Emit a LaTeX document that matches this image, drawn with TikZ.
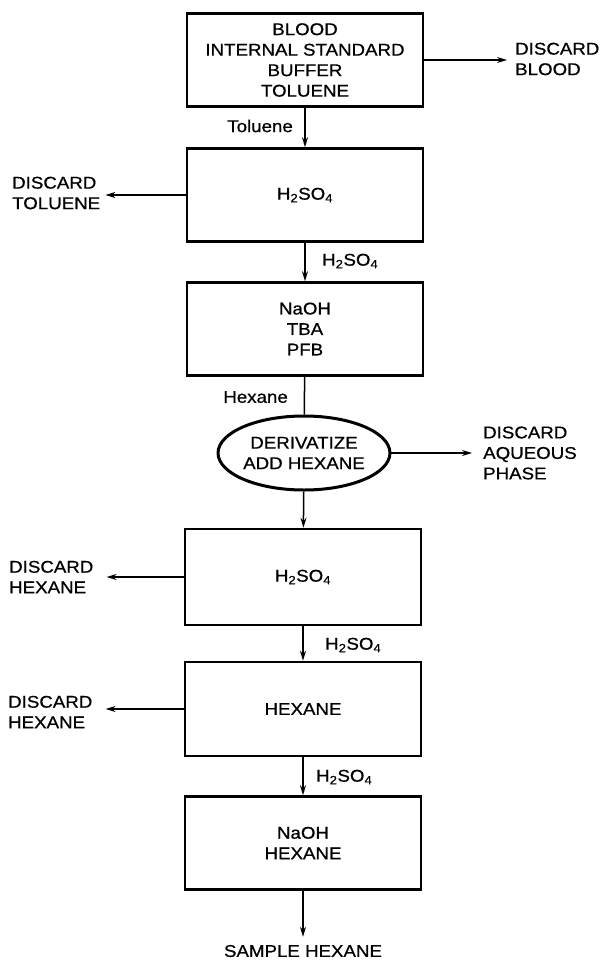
\documentclass[tikz,border=0pt]{standalone}
\usepackage{fontspec}
\setmainfont{Liberation Sans}[FakeBold=0.7,FakeStretch=1.1]
\usetikzlibrary{shapes.geometric,arrows.meta}
\begin{document}
\begin{tikzpicture}[>={Stealth[length=10pt,width=6pt]},x=1pt,y=-1pt,
	every node/.style={font=\fontsize{17}{20.5}\selectfont},
	vessel/.style={draw,line width=2.6pt,minimum width=236pt,
		minimum height=93pt,align=center,inner sep=0pt},
	flow/.style={line width=1.5pt},
	tag/.style={inner sep=0pt},
	waste/.style={align=left,inner sep=0pt}]
	\useasboundingbox (0,0) rectangle (602,962);
	% extraction steps
	\node[vessel] (blood) at (305,60)
	{BLOOD\\INTERNAL STANDARD\\BUFFER\\TOLUENE};
	\node[vessel] (acid1) at (305,195) {H\textsubscript{2}SO\textsubscript{4}};
	\node[vessel] (base1) at (305,329) {NaOH\\TBA\\PFB};
	\node[draw,ellipse,line width=3pt,minimum width=165pt,
	minimum height=74pt,inner sep=0pt,align=center] (deriv)
	at (304,453) {DERIVATIZE\\ADD HEXANE};
	\node[vessel,minimum height=96pt] (acid2) at (303,577)
	{H\textsubscript{2}SO\textsubscript{4}};
	\node[vessel,minimum height=94pt] (hex) at (303,709) {HEXANE};
	\node[vessel] (base2) at (303,843) {NaOH\\HEXANE};
	\node[tag] (sample) at (303,951) {SAMPLE HEXANE};
	% phase labels
	\node[tag,anchor=east] (ltol) at (293,126) {Toluene};
	\node[tag,anchor=west] (lacid1) at (322,261)
	{H\textsubscript{2}SO\textsubscript{4}};
	\node[tag,anchor=east] (lhex) at (288,397) {Hexane};
	\node[tag,anchor=west] (lacid2) at (325,645)
	{H\textsubscript{2}SO\textsubscript{4}};
	\node[tag,anchor=west] (lacid3) at (316,777)
	{H\textsubscript{2}SO\textsubscript{4}};
	% discarded phases
	\node[waste,anchor=west] (dblood) at (515,59) {DISCARD\\BLOOD};
	\node[waste,anchor=west] (dtol) at (12,193) {DISCARD\\TOLUENE};
	\node[waste,anchor=west] (daq) at (483,453)
	{DISCARD\\AQUEOUS\\PHASE};
	\node[waste,anchor=west] (dhex1) at (9,577) {DISCARD\\HEXANE};
	\node[waste,anchor=west] (dhex2) at (8,712) {DISCARD\\HEXANE};
	% main line
	\draw[flow,->] (blood) -- (acid1);
	\draw[flow,->] (acid1) -- (base1);
	\draw[flow] (base1) -- (deriv);
	\draw[flow,->] (deriv) -- (acid2);
	\draw[flow,->] (acid2) -- (hex);
	\draw[flow,->] (hex) -- (base2);
	\draw[flow,->,shorten >=8pt] (base2) -- (sample);
	% side outlets
	\draw[flow,->,shorten >=8pt] (blood.east) -- (blood.east -| dblood.west);
	\draw[flow,->,shorten >=5pt] (acid1.west) -- (acid1.west -| dtol.east);
	\draw[flow,->,shorten >=11pt] (deriv.east) -- (deriv.east -| daq.west);
	\draw[flow,->,shorten >=13pt] (acid2.west) -- (acid2.west -| dhex1.east);
	\draw[flow,->,shorten >=13pt] (hex.west) -- (hex.west -| dhex2.east);
\end{tikzpicture}
\end{document}
